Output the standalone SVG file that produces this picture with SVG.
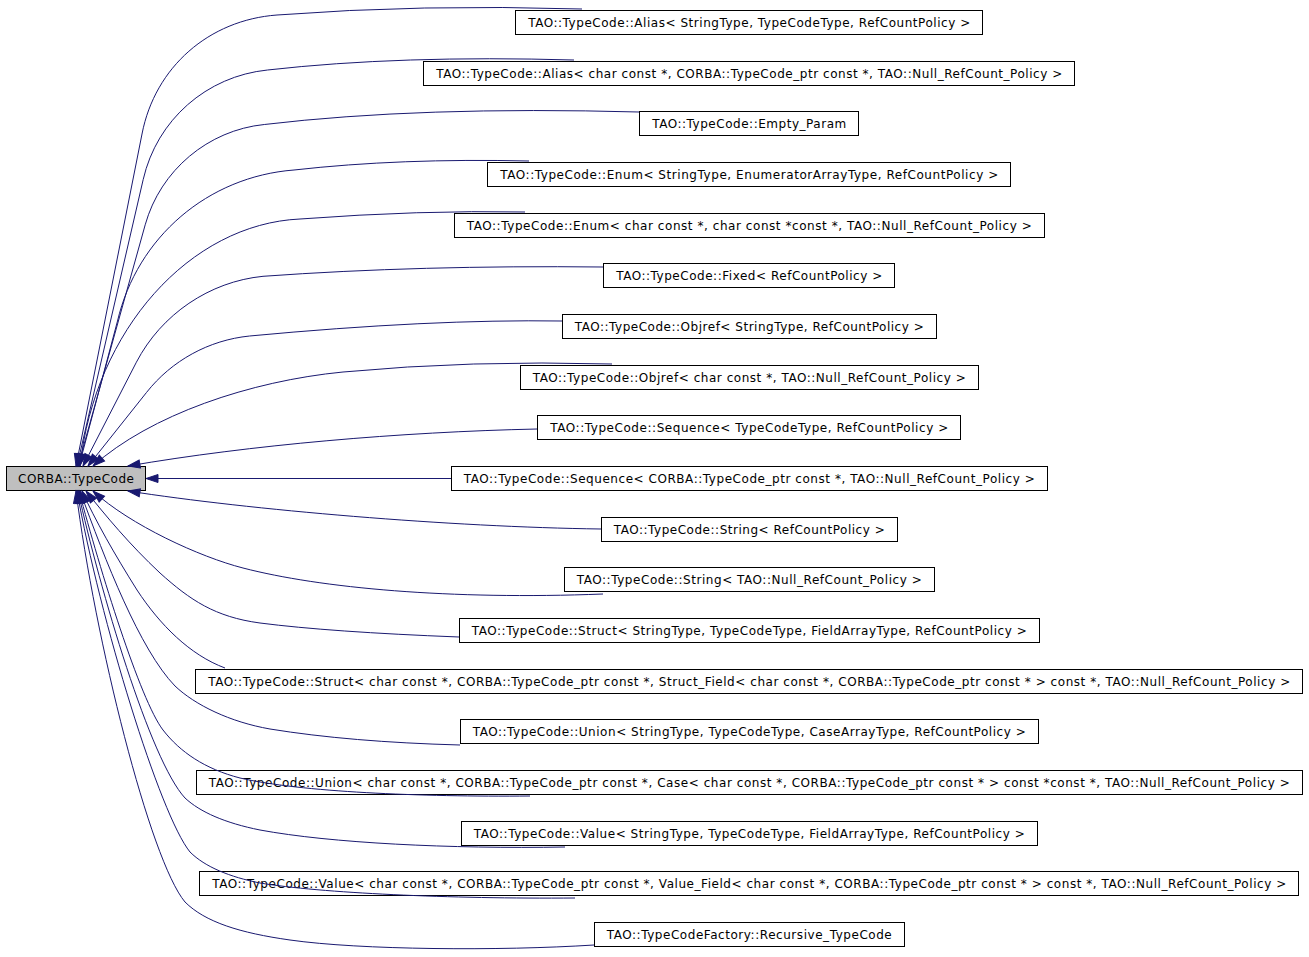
<svg xmlns="http://www.w3.org/2000/svg" width="1309" height="957" viewBox="0 0 1309 957">
<defs>
<marker id="arr" markerUnits="userSpaceOnUse" markerWidth="14" markerHeight="10" refX="12" refY="4.5" orient="auto" overflow="visible">
<path d="M0,0.5 L12,4.5 L0,8.5 z" fill="#191970" stroke="#191970" stroke-width="1"/>
</marker>
<style>
.n rect{fill:#ffffff;stroke:#000000;stroke-width:1}
#root rect{fill:#bfbfbf}
text{font-family:"DejaVu Sans","Liberation Sans",sans-serif;font-size:12px;fill:#000000;text-anchor:middle}
#edges path{fill:none;stroke:#191970;stroke-width:1;marker-end:url(#arr)}
</style>
</defs>
<rect width="1309" height="957" fill="#ffffff"/>
<g id="root" class="n"><rect x="6.5" y="466.5" width="139" height="24"/><text x="76" y="483" textLength="116">CORBA::TypeCode</text></g>
<g id="n1" class="n"><rect x="515.5" y="10.5" width="467" height="24"/><text x="749.25" y="27" textLength="442">TAO::TypeCode::Alias&lt; StringType, TypeCodeType, RefCountPolicy &gt;</text></g>
<g id="n2" class="n"><rect x="423.5" y="61.5" width="651" height="24"/><text x="749.25" y="78" textLength="626">TAO::TypeCode::Alias&lt; char const *, CORBA::TypeCode_ptr const *, TAO::Null_RefCount_Policy &gt;</text></g>
<g id="n3" class="n"><rect x="639.5" y="111.5" width="219" height="24"/><text x="749.25" y="128" textLength="194">TAO::TypeCode::Empty_Param</text></g>
<g id="n4" class="n"><rect x="487.5" y="162.5" width="523" height="24"/><text x="749.25" y="179" textLength="498">TAO::TypeCode::Enum&lt; StringType, EnumeratorArrayType, RefCountPolicy &gt;</text></g>
<g id="n5" class="n"><rect x="454.5" y="213.5" width="590" height="24"/><text x="749.25" y="230" textLength="565">TAO::TypeCode::Enum&lt; char const *, char const *const *, TAO::Null_RefCount_Policy &gt;</text></g>
<g id="n6" class="n"><rect x="603.5" y="263.5" width="291" height="24"/><text x="749.25" y="280" textLength="266">TAO::TypeCode::Fixed&lt; RefCountPolicy &gt;</text></g>
<g id="n7" class="n"><rect x="562.5" y="314.5" width="374" height="24"/><text x="749.25" y="331" textLength="349">TAO::TypeCode::Objref&lt; StringType, RefCountPolicy &gt;</text></g>
<g id="n8" class="n"><rect x="520.5" y="365.5" width="458" height="24"/><text x="749.25" y="382" textLength="433">TAO::TypeCode::Objref&lt; char const *, TAO::Null_RefCount_Policy &gt;</text></g>
<g id="n9" class="n"><rect x="537.5" y="415.5" width="423" height="24"/><text x="749.25" y="432" textLength="398">TAO::TypeCode::Sequence&lt; TypeCodeType, RefCountPolicy &gt;</text></g>
<g id="n10" class="n"><rect x="451.5" y="466.5" width="596" height="24"/><text x="749.25" y="483" textLength="571">TAO::TypeCode::Sequence&lt; CORBA::TypeCode_ptr const *, TAO::Null_RefCount_Policy &gt;</text></g>
<g id="n11" class="n"><rect x="601.5" y="517.5" width="296" height="24"/><text x="749.25" y="534" textLength="271">TAO::TypeCode::String&lt; RefCountPolicy &gt;</text></g>
<g id="n12" class="n"><rect x="564.5" y="567.5" width="370" height="24"/><text x="749.25" y="584" textLength="345">TAO::TypeCode::String&lt; TAO::Null_RefCount_Policy &gt;</text></g>
<g id="n13" class="n"><rect x="459.5" y="618.5" width="580" height="24"/><text x="749.25" y="635" textLength="555">TAO::TypeCode::Struct&lt; StringType, TypeCodeType, FieldArrayType, RefCountPolicy &gt;</text></g>
<g id="n14" class="n"><rect x="195.5" y="669.5" width="1107" height="24"/><text x="749.25" y="686" textLength="1082">TAO::TypeCode::Struct&lt; char const *, CORBA::TypeCode_ptr const *, Struct_Field&lt; char const *, CORBA::TypeCode_ptr const * &gt; const *, TAO::Null_RefCount_Policy &gt;</text></g>
<g id="n15" class="n"><rect x="460.5" y="719.5" width="578" height="24"/><text x="749.25" y="736" textLength="553">TAO::TypeCode::Union&lt; StringType, TypeCodeType, CaseArrayType, RefCountPolicy &gt;</text></g>
<g id="n16" class="n"><rect x="196.5" y="770.5" width="1106" height="24"/><text x="749.25" y="787" textLength="1081">TAO::TypeCode::Union&lt; char const *, CORBA::TypeCode_ptr const *, Case&lt; char const *, CORBA::TypeCode_ptr const * &gt; const *const *, TAO::Null_RefCount_Policy &gt;</text></g>
<g id="n17" class="n"><rect x="461.5" y="821.5" width="576" height="24"/><text x="749.25" y="838" textLength="551">TAO::TypeCode::Value&lt; StringType, TypeCodeType, FieldArrayType, RefCountPolicy &gt;</text></g>
<g id="n18" class="n"><rect x="199.5" y="871.5" width="1099" height="24"/><text x="749.25" y="888" textLength="1074">TAO::TypeCode::Value&lt; char const *, CORBA::TypeCode_ptr const *, Value_Field&lt; char const *, CORBA::TypeCode_ptr const * &gt; const *, TAO::Null_RefCount_Policy &gt;</text></g>
<g id="n19" class="n"><rect x="594.5" y="922.5" width="310" height="24"/><text x="749.25" y="939" textLength="285">TAO::TypeCodeFactory::Recursive_TypeCode</text></g>
<g id="edges">
<path d="M582,9 Q420,4 277,15 C209,20 155,67 142,134 L76,466"/>
<path d="M574,60 Q400,55 267.5,70 C206.6,76.2 156.9,119.8 143.2,179.5 L77,466"/>
<path d="M639,112 Q420,106 264.3,124.5 C208,130.2 160.4,170.3 145.2,224.8 L78,466"/>
<path d="M529,161 Q400,158 294,170 C207.9,176.6 137.3,237 117.5,321 L79,466"/>
<path d="M525,212 Q420,210 300,219 C190,224 95,330 80,466"/>
<path d="M603,267 Q420,265 263,276.3 C209.4,281.6 161.3,314.4 136.4,362.2 L83,466"/>
<path d="M562,321 Q430,319 249.6,336 C208.9,340.1 171.7,360.5 146.4,392.6 L88,466"/>
<path d="M612,364 Q470,360 343,372 C250,381 150,415 93,466"/>
<path d="M537,429 C400,432 250,445 128,466"/>
<path d="M451,478.5 L146,478.5"/>
<path d="M601,529 C450,527 250,510 128,491"/>
<path d="M603,594 C450,600 320,588 243,568 C200,557 130,525 93,491"/>
<path d="M459,637 Q330,632 260,623 C215,617 190,600 160,573 C130,545 105,515 86,491"/>
<path d="M225,668 C190,655 160,625 137,590 C115,555 95,520 82,491"/>
<path d="M460,745 Q350,742 270,729 C230,722 195,705 175,686 C140,650 105,560 80,491"/>
<path d="M530,796 C420,797 300,792 240,778 C205,769 180,752 163,730 C140,700 100,570 79,491"/>
<path d="M565,847 C450,849 330,843 260,830 C225,823 200,812 185,798 C150,760 100,590 78,491"/>
<path d="M575,898 C450,899 320,893 260,883 C230,877 205,867 190,852 C160,815 100,620 77,491"/>
<path d="M594,945 C500,951 360,950 290,940 C240,933 205,922 185,902 C150,860 95,640 76,491"/>
</g>
</svg>
